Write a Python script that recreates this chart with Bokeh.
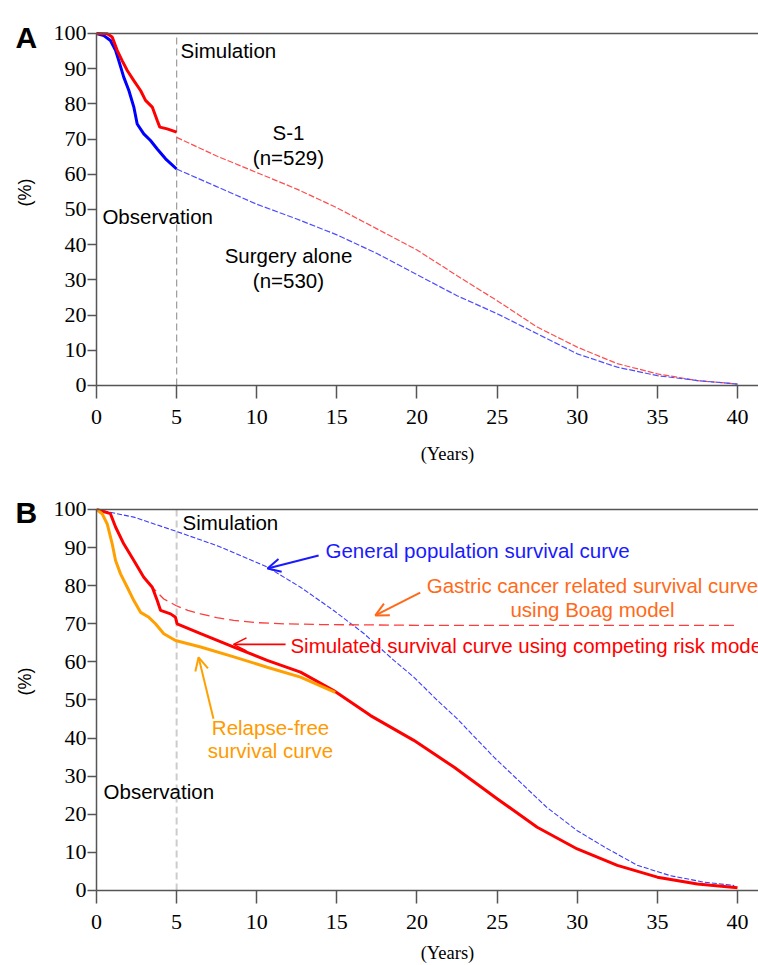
import math
from bokeh.plotting import figure
from bokeh.layouts import column
from bokeh.models import Label, Arrow, OpenHead, FixedTicker, Range1d, LinearAxis
from bokeh.embed import file_html
from bokeh.resources import INLINE

# ---------------- data ----------------
x_ticks = [0, 5, 10, 15, 20, 25, 30, 35, 40]
y_ticks = [0, 10, 20, 30, 40, 50, 60, 70, 80, 90, 100]
obs_end = 5  # end of observation period (years)

# Panel A: observed (0-5 years)
a_s1_obs_t = [0, 0.67, 0.98, 1.29, 1.6, 1.92, 2.33, 2.75, 3.06, 3.48, 3.79, 3.95, 4.41, 5.0]
a_s1_obs_v = [100, 99.9, 99.0, 95.2, 92.3, 89.5, 86.6, 83.8, 81.0, 79.1, 75.3, 73.4, 72.9, 72.0]
a_sa_obs_t = [0, 0.46, 0.87, 1.19, 1.39, 1.7, 2.02, 2.33, 2.54, 2.95, 3.37, 3.79, 4.31, 5.0]
a_sa_obs_v = [100, 99.4, 98.0, 95.2, 92.3, 87.6, 83.8, 79.1, 74.3, 71.5, 69.6, 67.2, 64.4, 61.5]
# Panel A: simulated (5-40 years)
a_sim_t = [5, 7.5, 10, 12.5, 15, 17.5, 20, 22.5, 25, 27.5, 30, 32.5, 35, 37.5, 40]
a_s1_sim_v = [70.5, 65.2, 60.5, 55.8, 50.5, 44.5, 38.5, 31.2, 24.1, 16.6, 10.9, 6.2, 3.3, 1.4, 0.4]
a_sa_sim_v = [61.5, 56.5, 51.5, 47.3, 42.8, 37.5, 31.5, 25.5, 20.4, 14.7, 9.0, 5.2, 2.8, 1.4, 0.4]

# Panel B
b_gen_t = [0, 2.33, 4.95, 7.53, 10.65, 12.73, 14.8, 16.7, 18.56, 19.8, 21.27, 22.5, 24.8,
           28.1, 30.0, 31.7, 33.75, 35.8, 37.9, 39.8]
b_gen_v = [100, 98.0, 94.3, 90.5, 84.9, 79.6, 73.5, 67.4, 60.4, 56.0, 49.9, 45.1, 35.0,
           21.8, 15.7, 11.4, 6.6, 3.9, 2.2, 1.3]
b_boag_t = [3.3, 3.48, 4.2, 4.95, 5.7, 6.5, 7.5, 8.57, 10, 11.7, 14, 20, 30, 40]
b_boag_v = [80.5, 79.6, 76.5, 74.8, 73.5, 72.6, 71.6, 70.9, 70.3, 70.0, 69.8, 69.6, 69.6, 69.6]
b_sim_t = [0, 0.87, 1.19, 1.7, 2.33, 2.95, 3.48, 3.79, 4.0, 4.62, 4.93, 5.03, 6.5, 8.57,
           10.65, 12.73, 14.8, 17.1, 19.8, 22.3, 25, 27.5, 30, 32.5, 35, 37.5, 40]
b_sim_v = [100, 98.9, 95.4, 91.0, 86.6, 82.2, 79.6, 76.1, 73.5, 72.6, 71.7, 70.0, 67.4, 63.9,
           60.4, 57.3, 52.5, 45.9, 39.4, 32.4, 24.1, 16.6, 10.9, 6.6, 3.5, 1.7, 0.7]
b_rfs_t = [0, 0.35, 0.67, 0.98, 1.19, 1.5, 1.92, 2.33, 2.75, 3.27, 3.68, 4.2, 4.93, 6.5,
           8.57, 10.65, 12.73, 14.9]
b_rfs_v = [100, 98.9, 96.2, 91.0, 86.6, 83.1, 79.6, 76.1, 73.0, 71.7, 70.0, 67.4, 65.6, 63.9,
           61.3, 58.6, 56.0, 52.0]

SANS = "Liberation Sans"
SERIF = "Liberation Serif"
AX = "#555555"
TXT = "20.5px"
X_END = 41.31


def make_fig(height, y_start, y_end):
    p = figure(width=758, height=height, output_backend="svg", toolbar_location=None,
               x_range=Range1d(-5.99, X_END), y_range=Range1d(y_start, y_end),
               x_axis_location="below", y_axis_location="left", min_border=0)
    p.title.visible = False
    p.grid.visible = False
    p.outline_line_color = None
    p.background_fill_color = "white"
    p.border_fill_color = "white"
    for ax in (p.xaxis, p.yaxis):
        ax.axis_line_color = AX
        ax.axis_line_width = 1.5
        ax.major_tick_line_color = AX
        ax.major_tick_line_width = 1.5
        ax.major_tick_in = 0
        ax.minor_tick_line_color = None
        ax.major_label_text_font = SERIF
        ax.major_label_text_font_size = "22px"
        ax.major_label_text_color = "black"
        ax.fixed_location = 0
    p.xaxis.ticker = FixedTicker(ticks=x_ticks)
    p.yaxis.ticker = FixedTicker(ticks=y_ticks)
    p.xaxis.bounds = (0, X_END)
    p.yaxis.bounds = (0, 100)
    p.xaxis.major_tick_out = 13
    p.xaxis.major_label_standoff = 12
    p.yaxis.major_tick_out = 9
    p.yaxis.major_label_standoff = 1
    top = LinearAxis(fixed_location=100, bounds=(0, X_END), ticker=FixedTicker(ticks=[]),
                     axis_line_color=AX, axis_line_width=1.5, major_tick_line_color=None,
                     minor_tick_line_color=None, major_label_text_font_size="0px")
    p.add_layout(top, "above")
    return p


def lab(p, x, y, text, color="black", size=TXT, font=SANS, align="left",
        baseline="middle", angle=0.0, style="normal"):
    p.add_layout(Label(x=x, y=y, text=text, text_color=color, text_font_size=size,
                       text_font=font, text_align=align, text_baseline=baseline,
                       angle=angle, text_font_style=style))


def divider(p, color, width):
    p.segment(x0=[obs_end], y0=[0], x1=[obs_end], y1=[100], line_color=color,
              line_width=width, line_dash="7 4")


# ---------------- Panel A ----------------
pa = make_fig(480, -26.99, 109.375)
divider(pa, "#a0a0a0", 1.3)
pa.line(a_sim_t, a_s1_sim_v, line_color="#ff4d4d", line_width=1.2, line_dash="6 2")
pa.line(a_sim_t, a_sa_sim_v, line_color="#4d4dff", line_width=1.2, line_dash="6 2")
pa.line(a_sa_obs_t, a_sa_obs_v, line_color="#0000ff", line_width=3)
pa.line(a_s1_obs_t, a_s1_obs_v, line_color="#ff0000", line_width=3)

lab(pa, -5.05, 98.86, "A", size="30px", baseline="alphabetic", style="bold")
lab(pa, 5.24, 95.17, "Simulation")
lab(pa, 0.37, 48.0, "Observation")
lab(pa, 11.98, 71.88, "S-1", align="center")
lab(pa, 11.98, 64.77, "(n=529)", align="center")
lab(pa, 11.98, 36.93, "Surgery alone", align="center")
lab(pa, 11.98, 29.83, "(n=530)", align="center")
lab(pa, 21.9, -19.6, "(Years)", font=SERIF, size="18.5px", align="center")
lab(pa, -4.43, 54.8, "(%)", size="18px", align="center", angle=math.pi / 2)

# ---------------- Panel B ----------------
pb = make_fig(485, -19.69, 107.61)
divider(pb, "#cccccc", 2)
pb.line(b_gen_t, b_gen_v, line_color="#3b3bff", line_width=1.1, line_dash="5 2")
pb.line(b_boag_t, b_boag_v, line_color="#ff3b3b", line_width=1.3, line_dash="10 5")
pb.line(b_sim_t, b_sim_v, line_color="#ff0000", line_width=3)
pb.line(b_rfs_t, b_rfs_v, line_color="#ffa000", line_width=3)

lab(pb, -5.05, 99.2, "B", size="30px", baseline="alphabetic", style="bold")
lab(pb, 5.37, 96.6, "Simulation")
lab(pb, 0.44, 26.0, "Observation")
lab(pb, 14.29, 89.2, "General population survival curve", color="#1a1aff")
lab(pb, 30.95, 80.05, "Gastric cancer related survival curve", color="#ff6a1a", align="center")
lab(pb, 30.95, 73.75, "using Boag model", color="#ff6a1a", align="center")
lab(pb, 12.1, 64.3, "Simulated survival curve using competing risk model", color="#ff0000")
lab(pb, 10.86, 42.8, "Relapse-free", color="#ff9a00", align="center")
lab(pb, 10.86, 36.7, "survival curve", color="#ff9a00", align="center")
lab(pb, 21.9, -16.5, "(Years)", font=SERIF, size="18.5px", align="center")
lab(pb, -4.43, 54.86, "(%)", size="18px", align="center", angle=math.pi / 2)


def arrow(p, x0, y0, x1, y1, color, w=2):
    p.add_layout(Arrow(end=OpenHead(size=13, line_color=color, line_width=w),
                       x_start=x0, y_start=y0, x_end=x1, y_end=y1,
                       line_color=color, line_width=w))


arrow(pb, 13.86, 87.9, 10.67, 84.5, "#1a1aff")
arrow(pb, 20.2, 78.2, 17.4, 72.2, "#ff6a1a")
arrow(pb, 11.8, 64.6, 8.55, 64.6, "#ff0000", 1.6)
arrow(pb, 7.3, 45.1, 6.37, 61.2, "#ffa000")

layout = column(pa, pb, spacing=0)
open("out.html", "w").write(file_html(layout, INLINE))
